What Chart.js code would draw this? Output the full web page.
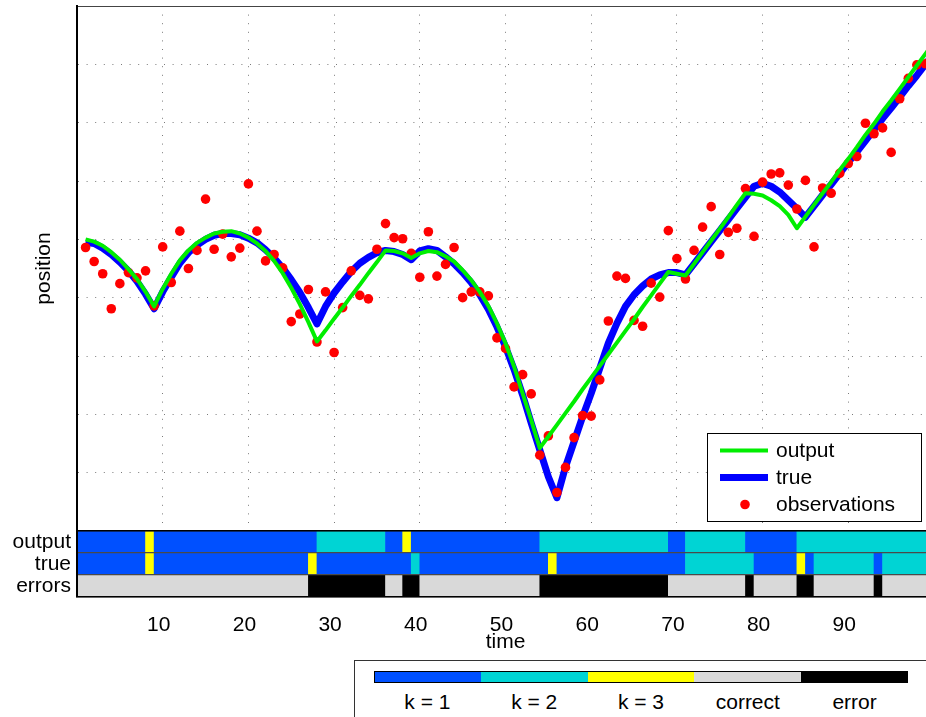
<!DOCTYPE html>
<html>
<head>
<meta charset="utf-8">
<script src="https://cdn.jsdelivr.net/npm/chart.js@4.4.1/dist/chart.umd.min.js"></script>
<style>
  html, body { margin: 0; padding: 0; background: #fff; }
  body { width: 926px; height: 717px; overflow: hidden; position: relative;
         font-family: "Liberation Sans", Arial, sans-serif; }
  canvas { position: absolute; left: 0; }
  #main { top: 0; }
  #panel { top: 531px; }
  #key { position: absolute; left: 354px; top: 660px; width: 640px; height: 90px;
         border: 1px solid #333; background: #fff; box-sizing: border-box; }
  .swatch { position: absolute; top: 671px; height: 12px; }
  #swatchFrame { position: absolute; left: 374px; top: 671px; width: 534px; height: 12px;
                 border: 1px solid #000; box-sizing: border-box; }
  .keyLabel { position: absolute; top: 689px; width: 106px; text-align: center;
              font-size: 21px; line-height: 25px; color: #000; }
</style>
</head>
<body>
<canvas id="main" width="960" height="531"></canvas>
<canvas id="panel" width="960" height="186"></canvas>
<div id="key"></div>
<script>
// time steps
const time = [
  1, 2, 3, 4, 5, 6, 7, 8, 9, 10,
  11, 12, 13, 14, 15, 16, 17, 18, 19, 20,
  21, 22, 23, 24, 25, 26, 27, 28, 29, 30,
  31, 32, 33, 34, 35, 36, 37, 38, 39, 40,
  41, 42, 43, 44, 45, 46, 47, 48, 49, 50,
  51, 52, 53, 54, 55, 56, 57, 58, 59, 60,
  61, 62, 63, 64, 65, 66, 67, 68, 69, 70,
  71, 72, 73, 74, 75, 76, 77, 78, 79, 80,
  81, 82, 83, 84, 85, 86, 87, 88, 89, 90,
  91, 92, 93, 94, 95, 96, 97, 98, 99, 100
];

// noisy position measurements
const observations = [
  4.86, 4.62, 4.41, 3.81, 4.24, 4.43, 4.34, 4.46, 3.86, 4.87,
  4.26, 5.14, 4.50, 4.81, 5.69, 4.83, 5.09, 4.70, 4.85, 5.95,
  5.14, 4.63, 4.74, 4.51, 3.59, 3.72, 4.14, 3.24, 4.10, 3.06,
  3.83, 4.46, 4.04, 3.98, 4.83, 5.27, 5.03, 5.01, 4.76, 4.35,
  5.13, 4.37, 4.57, 4.86, 4.00, 4.10, 4.10, 4.03, 3.31, 3.13,
  2.47, 2.68, 2.35, 1.30, 1.63, 0.66, 1.09, 1.60, 1.98, 1.97,
  2.59, 3.60, 4.37, 4.33, 3.61, 3.51, 4.25, 4.01, 5.15, 4.67,
  4.32, 4.81, 5.21, 5.56, 4.74, 5.12, 5.19, 5.87, 5.05, 5.98,
  6.12, 6.14, 5.93, 5.52, 6.01, 4.87, 5.88, 5.79, 6.13, 6.30,
  6.42, 6.99, 6.81, 6.91, 6.49, 7.41, 7.76, 7.99, 8.01, 8.25
];

// true position
const truePos = [
  4.95, 4.93, 4.85, 4.74, 4.61, 4.46, 4.28, 4.06, 3.81, 4.10,
  4.35, 4.59, 4.77, 4.90, 5.00, 5.07, 5.10, 5.10, 5.08, 5.02,
  4.94, 4.82, 4.68, 4.51, 4.31, 4.09, 3.83, 3.55, 3.85, 4.08,
  4.27, 4.45, 4.59, 4.69, 4.77, 4.81, 4.79, 4.74, 4.65, 4.80,
  4.84, 4.81, 4.70, 4.58, 4.43, 4.26, 4.05, 3.80, 3.50, 3.16,
  2.77, 2.33, 1.85, 1.39, 0.93, 0.57, 1.10, 1.53, 1.96, 2.36,
  2.79, 3.22, 3.56, 3.85, 4.05, 4.20, 4.32, 4.39, 4.43, 4.43,
  4.39, 4.58, 4.77, 4.96, 5.15, 5.34, 5.53, 5.72, 5.91, 5.96,
  5.91, 5.81, 5.67, 5.53, 5.38, 5.57, 5.76, 5.94, 6.13, 6.32,
  6.50, 6.69, 6.88, 7.07, 7.25, 7.44, 7.63, 7.81, 8.00, 8.19
];

// filter output position
const outputPos = [
  5.00, 4.96, 4.89, 4.78, 4.65, 4.49, 4.32, 4.10, 3.85, 4.15,
  4.41, 4.64, 4.81, 4.94, 5.03, 5.10, 5.13, 5.14, 5.10, 5.03,
  4.93, 4.80, 4.63, 4.42, 4.17, 3.89, 3.58, 3.25, 3.44, 3.64,
  3.83, 4.03, 4.22, 4.42, 4.61, 4.81, 4.80, 4.76, 4.68, 4.76,
  4.80, 4.78, 4.71, 4.62, 4.47, 4.30, 4.10, 3.86, 3.56, 3.22,
  2.82, 2.36, 1.90, 1.42, 1.62, 1.82, 2.02, 2.22, 2.43, 2.63,
  2.83, 3.03, 3.23, 3.43, 3.63, 3.84, 4.04, 4.24, 4.44, 4.41,
  4.38, 4.58, 4.78, 4.98, 5.18, 5.38, 5.59, 5.79, 5.78, 5.75,
  5.67, 5.57, 5.42, 5.19, 5.39, 5.59, 5.79, 5.98, 6.19, 6.38,
  6.58, 6.79, 6.98, 7.19, 7.38, 7.58, 7.78, 7.98, 8.18, 8.38
];

// regime k per time step
const outputK = [
  1, 1, 1, 1, 1, 1, 1, 1, 3, 1,
  1, 1, 1, 1, 1, 1, 1, 1, 1, 1,
  1, 1, 1, 1, 1, 1, 1, 1, 2, 2,
  2, 2, 2, 2, 2, 2, 1, 1, 3, 1,
  1, 1, 1, 1, 1, 1, 1, 1, 1, 1,
  1, 1, 1, 1, 2, 2, 2, 2, 2, 2,
  2, 2, 2, 2, 2, 2, 2, 2, 2, 1,
  1, 2, 2, 2, 2, 2, 2, 2, 1, 1,
  1, 1, 1, 1, 2, 2, 2, 2, 2, 2,
  2, 2, 2, 2, 2, 2, 2, 2, 2, 2
];
const trueK = [
  1, 1, 1, 1, 1, 1, 1, 1, 3, 1,
  1, 1, 1, 1, 1, 1, 1, 1, 1, 1,
  1, 1, 1, 1, 1, 1, 1, 3, 1, 1,
  1, 1, 1, 1, 1, 1, 1, 1, 1, 2,
  1, 1, 1, 1, 1, 1, 1, 1, 1, 1,
  1, 1, 1, 1, 1, 3, 1, 1, 1, 1,
  1, 1, 1, 1, 1, 1, 1, 1, 1, 1,
  1, 2, 2, 2, 2, 2, 2, 2, 2, 1,
  1, 1, 1, 1, 3, 1, 2, 2, 2, 2,
  2, 2, 2, 1, 2, 2, 2, 2, 2, 2
];

const rowNames = ['output', 'true', 'errors'];
const timeTicks = [10, 20, 30, 40, 50, 60, 70, 80, 90];
const stateLabels = ['k = 1', 'k = 2', 'k = 3', 'correct', 'error'];
const stateColors = ['#0050ff', '#00d4d4', '#ffff00', '#d9d9d9', '#000000'];

const FONT = '"Liberation Sans", Arial, sans-serif';
const GREEN = '#00ee00', BLUE = '#0000ff', RED = '#ff0000';

Chart.defaults.font.family = FONT;
Chart.defaults.color = '#000';

const pts = (ys) => time.map((t, i) => ({ x: t, y: ys[i] }));
const noPad = (s) => { s.paddingTop = 0; s.paddingBottom = 0; s.paddingLeft = 0; s.paddingRight = 0; };

// legend box inside the position plot
const boxLegend = {
  id: 'boxLegend',
  afterDraw(chart) {
    const ctx = chart.ctx;
    const ds = chart.data.datasets;
    const items = [ds[0], ds[1], ds[2]];
    ctx.save();
    ctx.fillStyle = '#fff';
    ctx.fillRect(707.5, 433.5, 214, 88);
    ctx.strokeStyle = '#000';
    ctx.lineWidth = 1;
    ctx.strokeRect(707.5, 433.5, 214, 88);
    ctx.font = '21px ' + FONT;
    ctx.textBaseline = 'middle';
    ctx.textAlign = 'left';
    items.forEach((d, i) => {
      const y = 450.5 + i * 27;
      if (d.showLine === false) {
        ctx.fillStyle = d.pointBackgroundColor;
        ctx.beginPath();
        ctx.arc(745, y, d.pointRadius, 0, Math.PI * 2);
        ctx.fill();
      } else {
        ctx.strokeStyle = d.borderColor;
        ctx.lineWidth = d.borderWidth;
        ctx.beginPath();
        ctx.moveTo(720, y);
        ctx.lineTo(768, y);
        ctx.stroke();
      }
      ctx.fillStyle = '#000';
      ctx.fillText(d.label, 776, y + 1);
    });
    ctx.restore();
  }
};

new Chart(document.getElementById('main'), {
  type: 'line',
  data: {
    datasets: [
      { label: 'output', data: pts(outputPos), borderColor: GREEN, borderWidth: 4,
        pointRadius: 0, tension: 0, borderJoinStyle: 'round', order: 0 },
      { label: 'true', data: pts(truePos), borderColor: BLUE, borderWidth: 7,
        pointRadius: 0, tension: 0, borderJoinStyle: 'round', order: 2 },
      { label: 'observations', data: pts(observations), showLine: false,
        pointRadius: 4.8, pointBackgroundColor: RED, pointBorderWidth: 0, order: 1 }
    ]
  },
  options: {
    responsive: false, animation: false, devicePixelRatio: 1,
    layout: { autoPadding: false, padding: { top: 6, right: 26, left: 0, bottom: 0 } },
    plugins: { legend: { display: false }, tooltip: { enabled: false } },
    scales: {
      x: {
        type: 'linear', min: 0, max: 100,
        ticks: { display: false, stepSize: 10 },
        grid: { color: '#7a7a7a', lineWidth: 1, drawTicks: false },
        border: { display: true, color: '#000', width: 1.5, dash: [1, 7.6], z: 1 },
        afterFit(s) { s.height = 0; noPad(s); }
      },
      xTop: {
        type: 'linear', position: 'top', min: 0, max: 100,
        ticks: { display: false }, grid: { display: false },
        border: { display: true, color: '#444', width: 1, z: 1 },
        afterFit(s) { s.height = 0; noPad(s); }
      },
      y: {
        min: 0, max: 9,
        ticks: { display: false, stepSize: 1 },
        grid: { color: '#7a7a7a', lineWidth: 1, drawTicks: false },
        border: { display: true, color: '#000', width: 2, dash: [1, 7.6], z: 1 },
        title: { display: true, text: 'position', color: '#000',
                 font: { size: 21, family: FONT }, padding: { top: 32, bottom: 0 } },
        afterFit(s) { s.width = 77; noPad(s); }
      }
    }
  },
  plugins: [boxLegend]
});

// regime strips: consecutive time steps with the same state form one bar
const rowStates = [
  outputK.map(k => k - 1),
  trueK.map(k => k - 1),
  outputK.map((k, i) => (k === trueK[i] ? 3 : 4))
];
const cells = [];
rowNames.forEach((row, r) => {
  const states = rowStates[r];
  let start = 0;
  for (let i = 1; i <= time.length; i++) {
    if (i === time.length || states[i] !== states[start]) {
      cells.push({ x: [time[start] - 1, time[i - 1]], y: row, s: states[start] });
      start = i;
    }
  }
});

new Chart(document.getElementById('panel'), {
  type: 'bar',
  data: {
    labels: rowNames,
    datasets: [{
      data: cells,
      backgroundColor: cells.map(c => stateColors[c.s]),
      borderWidth: 0, barPercentage: 1, categoryPercentage: 1
    }]
  },
  options: {
    indexAxis: 'y',
    responsive: false, animation: false, devicePixelRatio: 1,
    layout: { autoPadding: false, padding: { top: 0, right: 26, left: 0, bottom: 0 } },
    plugins: { legend: { display: false }, tooltip: { enabled: false } },
    scales: {
      x: {
        type: 'linear', min: 0, max: 100,
        afterBuildTicks(s) { s.ticks = timeTicks.map(v => ({ value: v })); },
        ticks: { font: { size: 21, family: FONT }, color: '#000', padding: 8,
                 maxRotation: 0, autoSkip: false, labelOffset: -4 },
        grid: { display: false },
        border: { display: true, color: '#000', width: 1.5, z: 2 },
        title: { display: true, text: 'time', color: '#000',
                 font: { size: 21, family: FONT }, padding: { top: 0, bottom: 62 } },
        afterFit(s) { s.height = 120; noPad(s); }
      },
      xTop: {
        type: 'linear', position: 'top', min: 0, max: 100,
        ticks: { display: false }, grid: { display: false },
        border: { display: true, color: '#000', width: 1.5, z: 2 },
        afterFit(s) { s.height = 0; noPad(s); }
      },
      y: {
        type: 'category',
        grid: { offset: true, color: '#4a4a4a', lineWidth: 1.3, drawTicks: false, z: 1 },
        ticks: { font: { size: 21, family: FONT }, color: '#000', padding: 6, autoSkip: false },
        border: { display: true, color: '#000', width: 2, z: 2 },
        afterFit(s) { s.width = 77; noPad(s); }
      }
    }
  }
});

// colour key under the time axis
(function buildKey() {
  const body = document.body;
  const left = 374, w = 534 / stateColors.length;
  stateColors.forEach((c, i) => {
    const sw = document.createElement('div');
    sw.className = 'swatch';
    sw.style.left = (left + i * w) + 'px';
    sw.style.width = w + 'px';
    sw.style.background = c;
    body.appendChild(sw);
    const lb = document.createElement('div');
    lb.className = 'keyLabel';
    lb.style.left = (left + i * w + w / 2 - 53) + 'px';
    lb.textContent = stateLabels[i];
    body.appendChild(lb);
  });
  const frame = document.createElement('div');
  frame.id = 'swatchFrame';
  body.appendChild(frame);
})();
</script>
</body>
</html>
